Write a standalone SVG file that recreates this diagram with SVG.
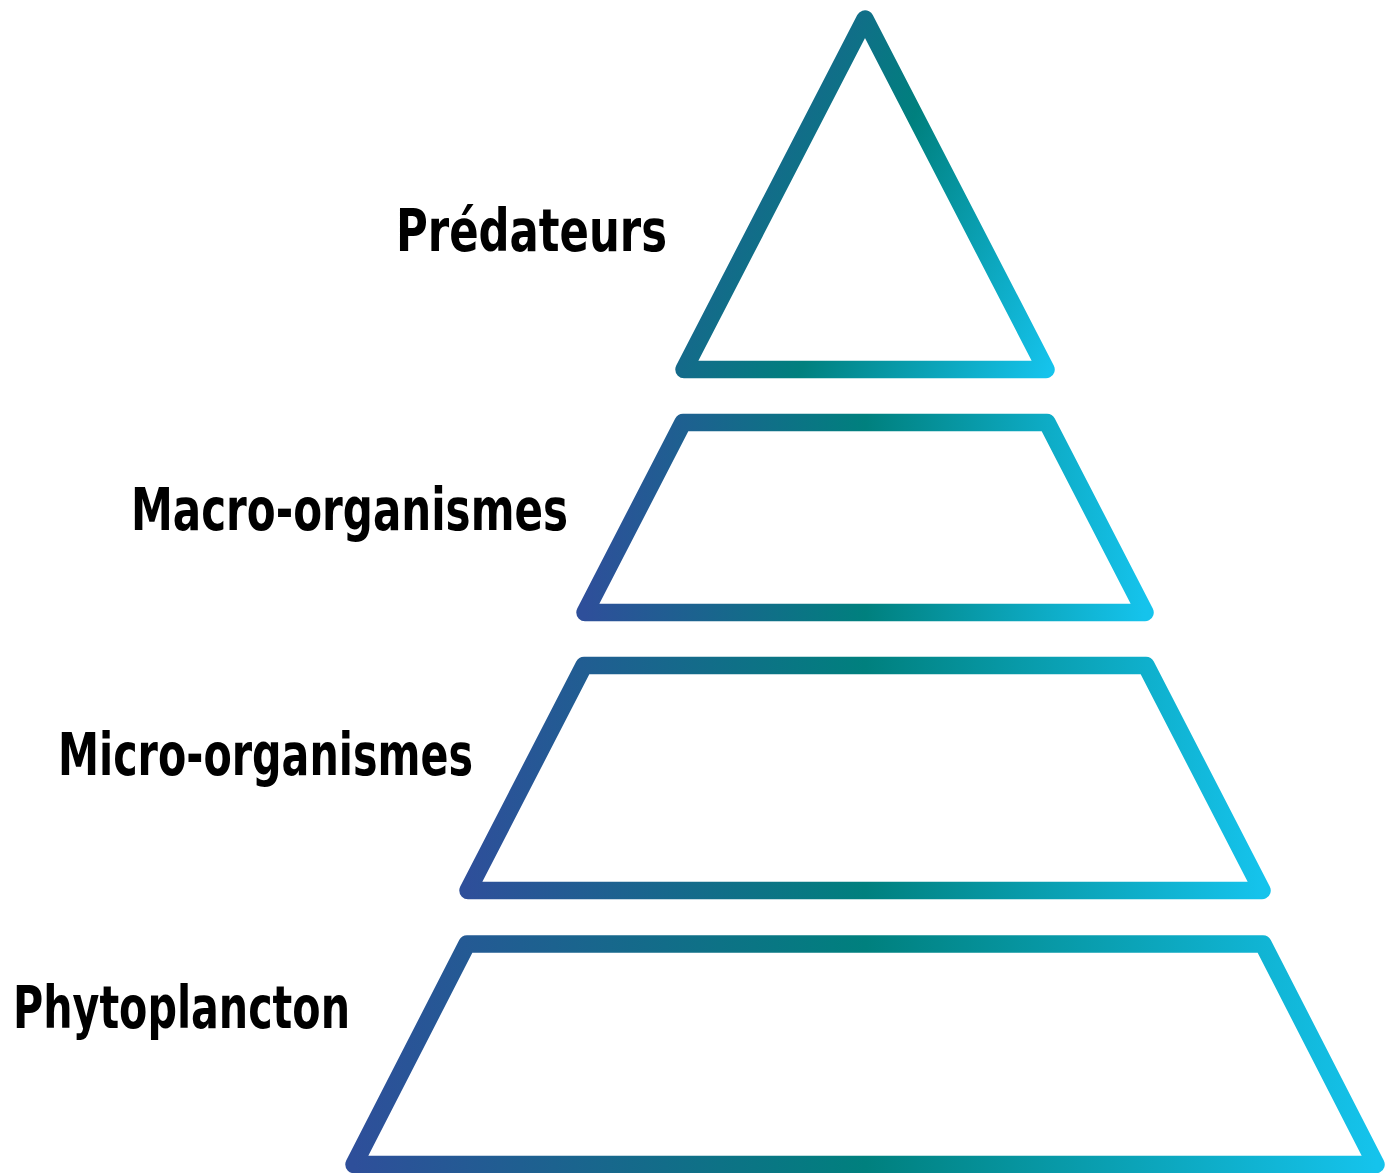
<svg xmlns="http://www.w3.org/2000/svg" width="1394" height="1173" viewBox="0 0 1394 1173">
  <style>
    .tier { fill: none; stroke-width: 17.5; stroke-linejoin: round; }
    .label { font-family: "Liberation Sans Narrow", "DejaVu Sans Condensed", "Liberation Sans", sans-serif; font-weight: bold; font-size: 58px; fill: #000000; }
  </style>
  <defs>
    <linearGradient id="gTri" gradientUnits="userSpaceOnUse" x1="679" y1="15" x2="1120" y2="212">
      <stop offset="0" stop-color="#2e4f9a"/>
      <stop offset="0.53" stop-color="#00807e"/>
      <stop offset="1" stop-color="#15c3ec"/>
    </linearGradient>
    <linearGradient id="gH" x1="0" y1="0" x2="1" y2="0">
      <stop offset="0" stop-color="#2e4f9a"/>
      <stop offset="0.5" stop-color="#00807e"/>
      <stop offset="1" stop-color="#15c3ec"/>
    </linearGradient>
  </defs>
  <rect width="1394" height="1173" fill="#ffffff"/>

  <g id="predateurs">
    <path class="tier" stroke="url(#gTri)" d="M865,19 L1046,369.5 L684,369.5 Z"/>
    <text class="label" x="396" y="251" textLength="271" lengthAdjust="spacingAndGlyphs">Prédateurs</text>
  </g>

  <g id="macro-organismes">
    <path class="tier" stroke="url(#gH)" d="M683,422.5 L1047,422.5 L1145,612.5 L585,612.5 Z"/>
    <text class="label" x="131" y="530" textLength="437" lengthAdjust="spacingAndGlyphs">Macro-organismes</text>
  </g>

  <g id="micro-organismes">
    <path class="tier" stroke="url(#gH)" d="M584,665.5 L1146,665.5 L1262,890.5 L468,890.5 Z"/>
    <text class="label" x="58" y="775" textLength="415" lengthAdjust="spacingAndGlyphs">Micro-organismes</text>
  </g>

  <g id="phytoplancton">
    <path class="tier" stroke="url(#gH)" d="M467,944 L1263,944 L1376,1164.5 L354,1164.5 Z"/>
    <text class="label" x="13" y="1028" textLength="337" lengthAdjust="spacingAndGlyphs">Phytoplancton</text>
  </g>

  <g id="connectors"/>
</svg>
